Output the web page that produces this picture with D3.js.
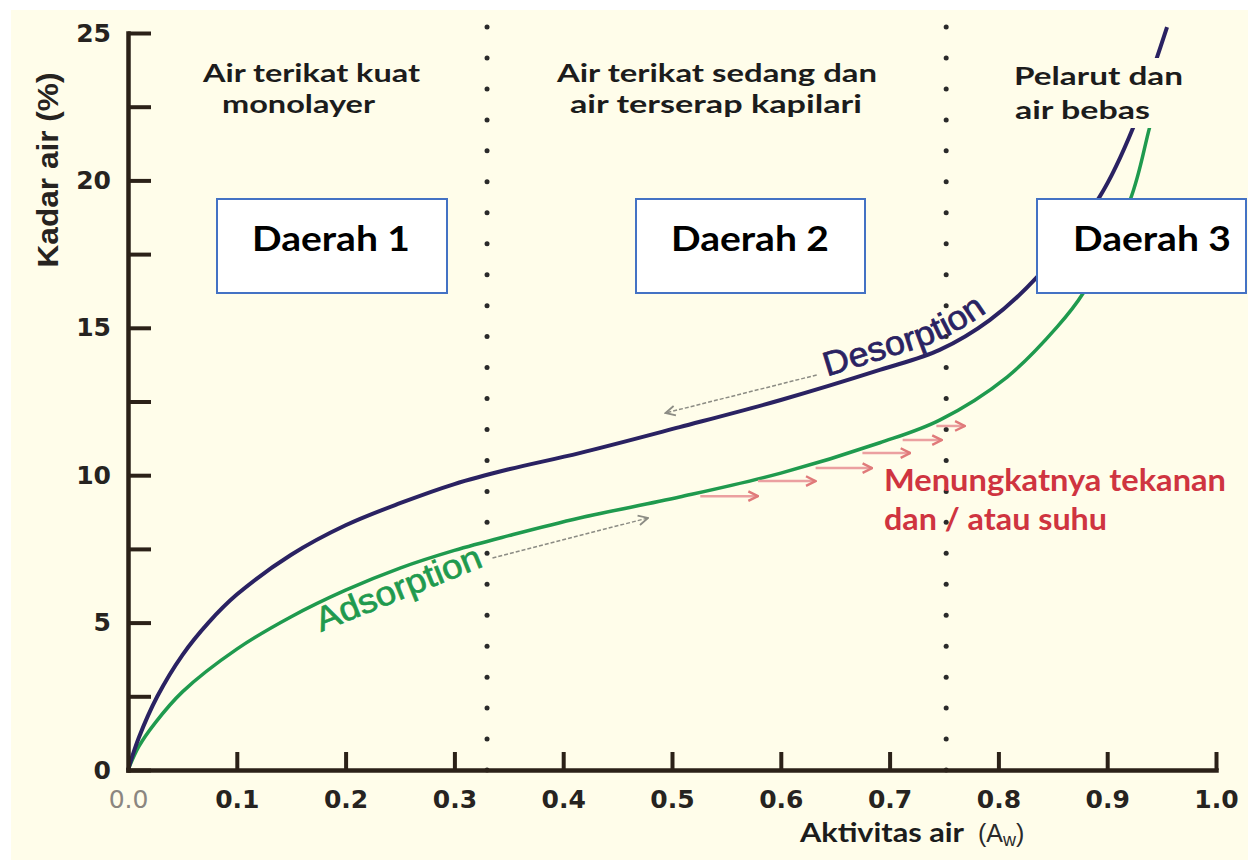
<!DOCTYPE html>
<html>
<head>
<meta charset="utf-8">
<script src="https://cdn.jsdelivr.net/npm/d3@7"></script>
<style>
body { margin: 0; background: #fff; }
</style>
</head>
<body>
<svg id="chart" width="1248" height="860"></svg>
<script>
// data
var desorpX = [0, 0.01, 0.027, 0.05, 0.074, 0.1, 0.15, 0.2, 0.25, 0.3, 0.35, 0.415, 0.507, 0.6, 0.691, 0.746, 0.792, 0.835, 0.893, 0.924, 0.946, 0.955];
var desorpY = [0, 1.1, 2.5, 3.9, 5.0, 5.95, 7.3, 8.3, 9.05, 9.7, 10.2, 10.75, 11.63, 12.55, 13.57, 14.25, 15.26, 16.7, 19.44, 21.8, 24.2, 25.2];
var adsorpX = [0, 0.01, 0.025, 0.05, 0.1, 0.15, 0.2, 0.25, 0.3, 0.35, 0.415, 0.507, 0.6, 0.691, 0.746, 0.808, 0.854, 0.878, 0.921, 0.939, 0.95];
var adsorpY = [0, 0.8, 1.6, 2.65, 4.1, 5.2, 6.1, 6.85, 7.45, 7.95, 8.55, 9.26, 10.07, 11.1, 11.87, 13.33, 15.03, 16.18, 19.33, 21.8, 23.3];

var xTicks = [0, 0.1, 0.2, 0.3, 0.4, 0.5, 0.6, 0.7, 0.8, 0.9, 1.0];
var yTicks = [0, 2.5, 5, 7.5, 10, 12.5, 15, 17.5, 20, 22.5, 25];
var yLabels = [0, 5, 10, 15, 20, 25];

// borders between the three regions (Aw)
var regionBounds = [0.33, 0.752];
var regionTitles = [["Air terikat kuat", "monolayer"], ["Air terikat sedang dan", "air terserap kapilari"], ["Pelarut dan", "air bebas"]];
var regionNames = ["Daerah 1", "Daerah 2", "Daerah 3"];
var noteLines = ["Menungkatnya tekanan", "dan / atau suhu"];

// "increasing pressure / temperature" arrows
var shiftX0 = [0.526, 0.579, 0.632, 0.675, 0.712, 0.743];
var shiftX1 = [0.579, 0.632, 0.684, 0.719, 0.748, 0.769];
var shiftY = [9.29, 9.80, 10.24, 10.75, 11.19, 11.67];

// direction arrows along the curves: [x0, y0, x1, y1]
var desorpArrow = [0.633, 13.40, 0.494, 12.11];
var adsorpArrow = [0.335, 7.19, 0.478, 8.55];

var svg = d3.select("#chart"),
    width = +svg.attr("width"),
    height = +svg.attr("height");

var x = d3.scaleLinear().domain([0, 1]).range([128, 1216]),
    y = d3.scaleLinear().domain([0, 25]).range([770, 33]);

var axisColor = "#2b2118",
    darkBlue = "#2a2262",
    green = "#1f9a4e",
    cream = "#fffdea",
    arial = "'Liberation Sans', Arial, sans-serif",
    dejavu = "'DejaVu Sans', sans-serif",
    calib = "Lato, 'Open Sans', sans-serif";

// background
svg.append("rect").attr("width", width).attr("height", height).attr("fill", "#fff");
svg.append("rect").attr("x", 11).attr("y", 10).attr("width", width - 11).attr("height", height - 10).attr("fill", cream);

// markers
var defs = svg.append("defs");
function head(id, color, w) {
    defs.append("marker").attr("id", id)
        .attr("viewBox", "0 0 10 10").attr("refX", 9).attr("refY", 5)
        .attr("markerWidth", 12).attr("markerHeight", 12).attr("markerUnits", "userSpaceOnUse")
        .attr("orient", "auto")
      .append("path").attr("d", "M1,1 L9,5 L1,9").attr("fill", "none").attr("stroke", color).attr("stroke-width", w);
}
head("grayHead", "#8c8c84", 1.5);
head("redHead", "#e07a7a", 2);

// dotted region borders
var dotCount = 24;
regionBounds.forEach(function (b) {
    var step = (y(0) - 27) / dotCount;
    svg.append("g").selectAll("circle")
        .data(d3.range(dotCount + 1))
        .join("circle")
        .attr("cx", x(b))
        .attr("cy", function (i) { return y(0) - i * step; })
        .attr("r", 2.5)
        .attr("fill", "#2a2a2a");
});

// curves
var line = d3.line()
    .x(function (d) { return x(d[0]); })
    .y(function (d) { return y(d[1]); })
    .curve(d3.curveCatmullRom.alpha(0.5));

var desorp = desorpX.map(function (v, i) { return [v, desorpY[i]]; });
var adsorp = adsorpX.map(function (v, i) { return [v, adsorpY[i]]; });

svg.append("path").datum(adsorp).attr("d", line)
    .attr("fill", "none").attr("stroke", green).attr("stroke-width", 3.5);
svg.append("path").datum(desorp).attr("d", line)
    .attr("fill", "none").attr("stroke", darkBlue).attr("stroke-width", 4);

// direction arrows
function dashedArrow(a) {
    svg.append("line")
        .attr("x1", x(a[0])).attr("y1", y(a[1]))
        .attr("x2", x(a[2])).attr("y2", y(a[3]))
        .attr("stroke", "#8c8c84").attr("stroke-width", 1.5)
        .attr("stroke-dasharray", "4,2")
        .attr("marker-end", "url(#grayHead)");
}
dashedArrow(desorpArrow);
dashedArrow(adsorpArrow);

svg.append("g").selectAll("line")
    .data(shiftY)
    .join("line")
    .attr("x1", function (d, i) { return x(shiftX0[i]); })
    .attr("x2", function (d, i) { return x(shiftX1[i]); })
    .attr("y1", function (d) { return y(d); })
    .attr("y2", function (d) { return y(d); })
    .attr("stroke", "#eba0a0").attr("stroke-width", 2.5)
    .attr("marker-end", "url(#redHead)");

// curve labels
svg.append("text")
    .attr("transform", "translate(321,632) rotate(-22)")
    .attr("font-family", arial).attr("font-size", 34)
    .attr("textLength", 176).attr("lengthAdjust", "spacingAndGlyphs")
    .attr("fill", green).attr("stroke", green).attr("stroke-width", 0.7)
    .text("Adsorption");

// desorption label follows the curve, a little above it
var liftLine = d3.line()
    .x(function (d) { return x(d[0]); })
    .y(function (d) { return y(d[1]) - 10; })
    .curve(d3.curveCatmullRom.alpha(0.5));
var lift = defs.append("path").attr("id", "desorpLift").attr("d", liftLine(desorp));
var liftNode = lift.node(), lo = 0, hi = liftNode.getTotalLength();
while (hi - lo > 0.5) {
    var mid = (lo + hi) / 2;
    if (liftNode.getPointAtLength(mid).x < 827) lo = mid; else hi = mid;
}
svg.append("text")
    .attr("font-family", arial).attr("font-size", 34)
    .attr("fill", darkBlue).attr("stroke", darkBlue).attr("stroke-width", 0.7)
  .append("textPath")
    .attr("href", "#desorpLift")
    .attr("startOffset", lo)
    .attr("textLength", 174).attr("lengthAdjust", "spacingAndGlyphs")
    .text("Desorption");

// region titles: [x, baseline, width] for each line
var titleLayout = [[[203, 82, 217], [222, 113, 153]], [[557, 82, 320], [570, 113, 292]], [[1014, 85, 169], [1015, 119, 135]]];
// cream patch behind the third title (the curve passes under it)
svg.append("rect").attr("x", 1008).attr("y", 58).attr("width", 180).attr("height", 70).attr("fill", cream);
regionTitles.forEach(function (lines, r) {
    lines.forEach(function (t, k) {
        var p = titleLayout[r][k];
        svg.append("text")
            .attr("x", p[0]).attr("y", p[1])
            .attr("textLength", p[2]).attr("lengthAdjust", "spacingAndGlyphs")
            .attr("font-family", calib).attr("font-weight", 700).attr("font-size", 25)
            .attr("fill", "#1c1c1c")
            .text(t);
    });
});

// Daerah boxes
var boxX = [217, 636, 1037], boxW = [230, 229, 209], textX = [252, 671, 1073];
regionNames.forEach(function (n, i) {
    svg.append("rect")
        .attr("x", boxX[i]).attr("y", 199).attr("width", boxW[i]).attr("height", 94)
        .attr("fill", "#fff").attr("stroke", "#4472c4").attr("stroke-width", 2);
    svg.append("text")
        .attr("x", textX[i]).attr("y", 251)
        .attr("textLength", 158).attr("lengthAdjust", "spacingAndGlyphs")
        .attr("font-family", calib).attr("font-weight", 700).attr("font-size", 35)
        .attr("fill", "#000")
        .text(n);
});

// red note
var noteW = [342, 223];
svg.append("g").selectAll("text")
    .data(noteLines)
    .join("text")
    .attr("x", 884)
    .attr("y", function (d, i) { return 491 + i * 39; })
    .attr("textLength", function (d, i) { return noteW[i]; }).attr("lengthAdjust", "spacingAndGlyphs")
    .attr("font-family", calib).attr("font-weight", 700).attr("font-size", 30)
    .attr("fill", "#cf3440")
    .text(function (d) { return d; });

// axes
var xAxis = d3.axisBottom(x)
    .tickValues(xTicks)
    .tickSizeInner(-18).tickSizeOuter(0).tickPadding(20)
    .tickFormat(d3.format(".1f"));
var yAxis = d3.axisLeft(y)
    .tickValues(yTicks)
    .tickSizeInner(-23).tickSizeOuter(0).tickPadding(17)
    .tickFormat(function (d) { return yLabels.indexOf(d) >= 0 ? d : ""; });

var gx = svg.append("g").attr("transform", "translate(0," + y(0) + ")").call(xAxis);
var gy = svg.append("g").attr("transform", "translate(" + x(0) + ",0)").call(yAxis);

[gx, gy].forEach(function (g) {
    g.select(".domain").attr("stroke", axisColor).attr("stroke-width", 4.5).attr("stroke-linecap", "square");
    g.selectAll(".tick line").attr("stroke", axisColor).attr("stroke-width", 4);
    g.selectAll(".tick text")
        .attr("font-family", dejavu).attr("font-weight", 700).attr("font-size", 25)
        .attr("fill", "#262320");
});
gx.selectAll(".tick").filter(function (d) { return d === 0; }).select("line").remove();
gx.selectAll(".tick text").filter(function (d) { return d === 0; })
    .attr("fill", "#8b8680").attr("font-weight", 400);

// axis titles
svg.append("text")
    .attr("transform", "translate(58,170) rotate(-90)")
    .attr("text-anchor", "middle")
    .attr("textLength", 195).attr("lengthAdjust", "spacingAndGlyphs")
    .attr("font-family", arial).attr("font-weight", 700).attr("font-size", 29)
    .attr("fill", "#262320")
    .text("Kadar air (%)");

svg.append("text")
    .attr("x", 800).attr("y", 842)
    .attr("textLength", 164).attr("lengthAdjust", "spacingAndGlyphs")
    .attr("font-family", calib).attr("font-weight", 700).attr("font-size", 27)
    .attr("fill", "#1c1c1c")
    .text("Aktivitas air");
var xt = svg.append("text")
    .attr("x", 978).attr("y", 842)
    .attr("font-family", arial).attr("font-size", 25)
    .attr("fill", "#2a2a2a");
xt.append("tspan").text("(A");
xt.append("tspan").attr("font-size", 18).attr("dy", 4).text("w");
xt.append("tspan").attr("dy", -4).text(")");
</script>
</body>
</html>
